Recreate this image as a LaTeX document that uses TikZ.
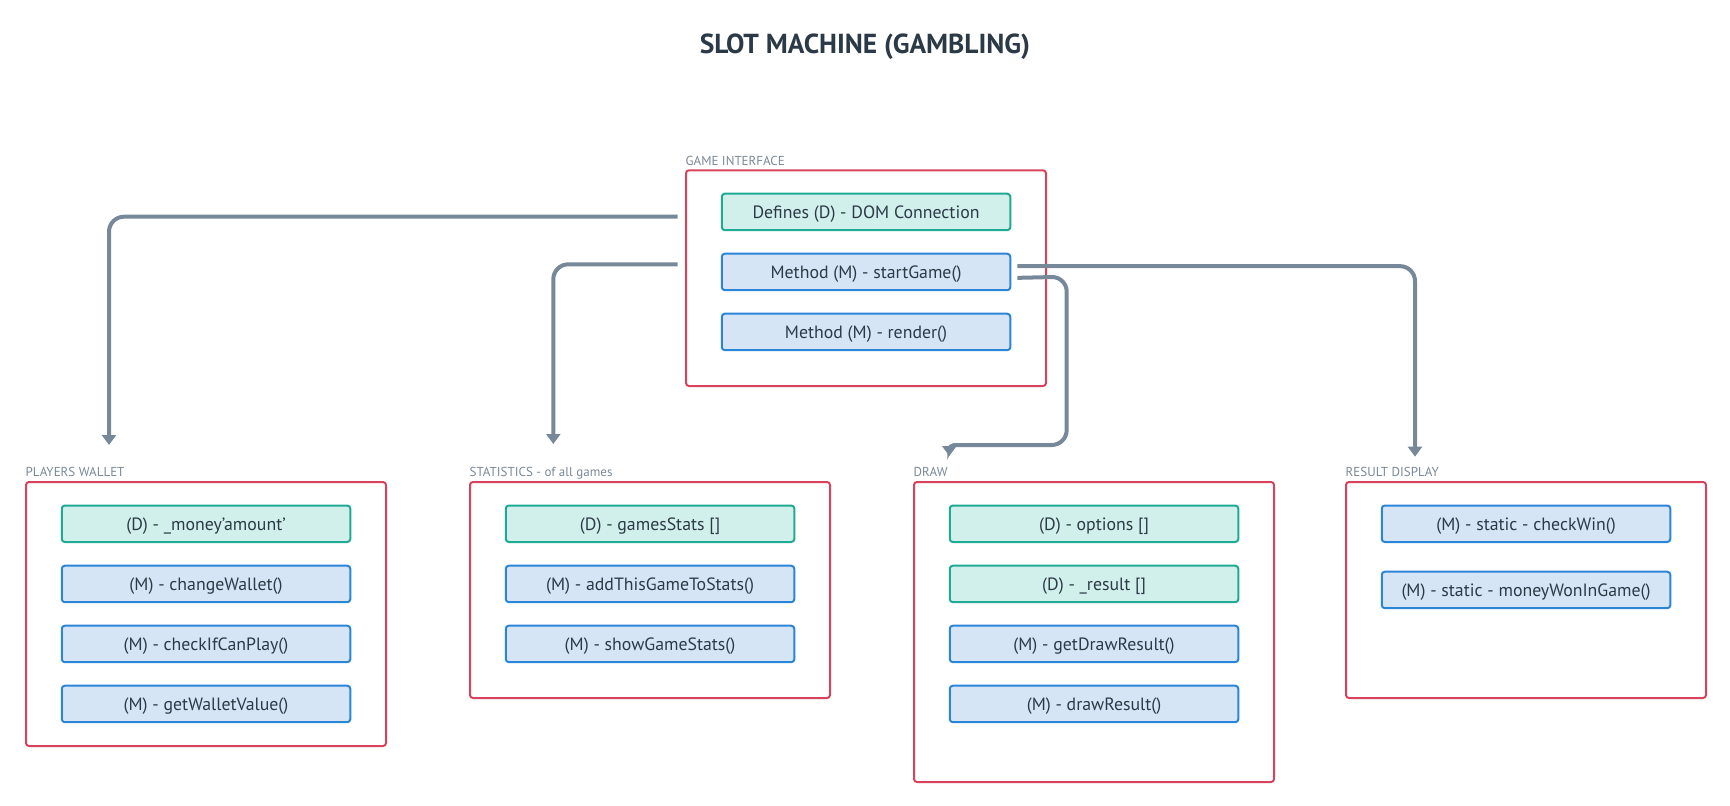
\documentclass[tikz,border=0pt]{standalone}
\usepackage{fontspec}
\setmainfont{PT Sans}
\usetikzlibrary{arrows.meta,calc}
\definecolor{framered}{HTML}{D8435C}
\definecolor{tealb}{HTML}{1FAA93}
\definecolor{tealf}{HTML}{D1EFEB}
\definecolor{blueb}{HTML}{2A85D7}
\definecolor{bluef}{HTML}{D5E5F5}
\definecolor{txt}{HTML}{2C3A47}
\definecolor{arr}{HTML}{778899}
\definecolor{lbl}{HTML}{7A8896}
\tikzset{
  grp/.style={draw=framered, line width=2pt, rounded corners=3pt, anchor=north west, minimum width=360pt, inner sep=0pt},
  dbox/.style={draw=tealb, fill=tealf, line width=2pt, rounded corners=3pt, anchor=north west, minimum width=288.5pt, minimum height=36.5pt, inner sep=0pt, text height=12.5pt, text depth=0pt, text=txt, font=\fontsize{17.8}{21}\selectfont},
  mbox/.style={dbox, draw=blueb, fill=bluef},
  flabel/.style={anchor=base west, inner sep=0pt, text=lbl, font=\fontsize{13}{15}\selectfont},
  conn/.style={draw=arr, line width=4pt, rounded corners=15pt, -{Triangle[width=14pt,length=10pt]}},
}
\begin{document}
\begin{tikzpicture}[x=1pt,y=-1pt]
\useasboundingbox (0,0) rectangle (1730,806);
% title
\node[anchor=base, inner sep=0pt, text=txt, font=\fontsize{27.5}{32}\selectfont\bfseries] (title) at (865,53.3) {SLOT MACHINE (GAMBLING)};

% game interface
\node[grp, minimum height=215.7pt] (gi) at (685,169.3) {};
\node[flabel] (gil) at (685.5,165) {GAME INTERFACE};
\node[dbox] (gi1) at (720.8,192.7) {Defines (D) - DOM Connection};
\node[mbox] (gi2) at (720.8,252.7) {Method (M) - startGame()};
\node[mbox] (gi3) at (720.8,312.7) {Method (M) - render()};

% players wallet
\node[grp, minimum height=264pt] (pw) at (25,481) {};
\node[flabel] (pwl) at (25.5,476.7) {PLAYERS WALLET};
\node[dbox] (pw1) at (60.8,504.5) {(D) - \_money'amount'};
\node[mbox] (pw2) at (60.8,564.7) {(M) - changeWallet()};
\node[mbox] (pw3) at (60.8,624.7) {(M) - checkIfCanPlay()};
\node[mbox] (pw4) at (60.8,684.7) {(M) - getWalletValue()};

% statistics
\node[grp, minimum height=216pt] (st) at (469,481) {};
\node[flabel] (stl) at (469.5,476.7) {STATISTICS - of all games};
\node[dbox] (st1) at (504.8,504.5) {(D) - gamesStats []};
\node[mbox] (st2) at (504.8,564.7) {(M) - addThisGameToStats()};
\node[mbox] (st3) at (504.8,624.7) {(M) - showGameStats()};

% draw
\node[grp, minimum height=300pt] (dr) at (913,481) {};
\node[flabel] (drl) at (913.5,476.7) {DRAW};
\node[dbox] (dr1) at (948.8,504.5) {(D) - options []};
\node[dbox] (dr2) at (948.8,564.7) {(D) - \_result []};
\node[mbox] (dr3) at (948.8,624.7) {(M) - getDrawResult()};
\node[mbox] (dr4) at (948.8,684.7) {(M) - drawResult()};

% result display
\node[grp, minimum height=216pt] (rd) at (1345,481) {};
\node[flabel] (rdl) at (1345.5,476.7) {RESULT DISPLAY};
\node[mbox] (rd1) at (1380.8,504.5) {(M) - static - checkWin()};
\node[mbox] (rd2) at (1380.8,570.7) {(M) - static - moneyWonInGame()};

% connector end points
\coordinate (a1s) at ($(gi.north west)+(-7.5,47.4)$);
\coordinate (a2s) at ($(gi.north west)+(-7.5,95)$);
\coordinate (a3s) at ($(gi2.east)+(6,-5.8)$);
\coordinate (a4s) at ($(gi2.east)+(6,5.9)$);
\coordinate (a1e) at (109,445);
\coordinate (a2e) at (553.3,444);
\coordinate (a3e) at (1415,456.7);
\coordinate (a4a) at (1066.7,276.7);
\coordinate (a4b) at (1066.7,445);
\coordinate (a4c) at (949.3,445);
\coordinate (a4e) at (949.3,456);

\draw[conn] (a1s) -| (a1e);
\draw[conn] (a2s) -| (a2e);
\draw[conn] (a3s) -| (a3e);
\draw[conn] (a4s) -- (a4a) -- (a4b) [rounded corners=5pt] -- (a4c) -- (a4e);
\end{tikzpicture}
\end{document}
